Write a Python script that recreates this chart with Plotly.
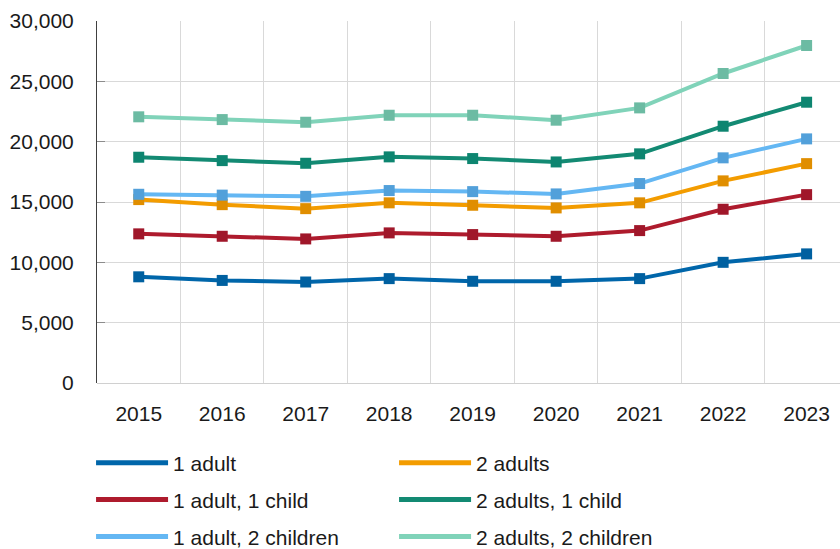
import plotly.graph_objects as go

years = ["2015", "2016", "2017", "2018", "2019", "2020", "2021", "2022", "2023"]

one_adult = [8800, 8500, 8370, 8650, 8430, 8430, 8650, 10000, 10700]
two_adults = [15200, 14780, 14450, 14930, 14730, 14510, 14930, 16750, 18180]
one_adult_one_child = [12360, 12160, 11940, 12440, 12300, 12160, 12630, 14400, 15610]
two_adults_one_child = [18710, 18430, 18210, 18740, 18600, 18320, 18990, 21280, 23270]
one_adult_two_children = [15640, 15570, 15470, 15950, 15860, 15670, 16530, 18660, 20230]
two_adults_two_children = [22060, 21830, 21610, 22190, 22190, 21780, 22800, 25650, 27970]

series_names = ["1 adult", "2 adults", "1 adult, 1 child", "2 adults, 1 child",
                "1 adult, 2 children", "2 adults, 2 children"]
series_values = [one_adult, two_adults, one_adult_one_child, two_adults_one_child,
                 one_adult_two_children, two_adults_two_children]
line_colors = ["#0066AA", "#F39C00", "#AE1B2D", "#138A73", "#64B7F3", "#80D3B9"]
marker_colors = ["#0060A0", "#E08E00", "#A0172A", "#0D8570", "#52A0DA", "#6CBBA3"]
legend_ids = ["legend", "legend", "legend2", "legend2", "legend3", "legend3"]

FONT = "Liberation Sans"
TXT = "#1a1a1a"

fig = go.Figure()
for name, vals, lc, mc in zip(series_names, series_values, line_colors, marker_colors):
    fig.add_trace(go.Scatter(
        x=years, y=vals, name=name, mode="lines+markers",
        line=dict(color=lc, width=4),
        marker=dict(symbol="square", size=11, color=mc),
        showlegend=False,
    ))
# legend-only entries (lines without markers, as in the reference)
for name, lc, lg in zip(series_names, line_colors, legend_ids):
    fig.add_trace(go.Scatter(
        x=[None], y=[None], name=name, mode="lines",
        line=dict(color=lc, width=5), legend=lg, showlegend=True,
    ))

def legend_row(ypos):
    return dict(
        orientation="h", x=-0.008, xanchor="left", y=ypos, yanchor="middle",
        font=dict(family=FONT, size=21, color=TXT),
        itemwidth=72, entrywidth=216, entrywidthmode="pixels",
        bgcolor="rgba(0,0,0,0)", traceorder="normal",
    )

fig.update_layout(
    width=840, height=549,
    margin=dict(l=97, r=0, t=21, b=166, autoexpand=False),
    paper_bgcolor="white", plot_bgcolor="white",
    font=dict(family=FONT, size=21, color=TXT),
    showlegend=True,
    legend=legend_row(-0.221),
    legend2=legend_row(-0.323),
    legend3=legend_row(-0.425),
    xaxis=dict(
        type="category", range=[-0.5, 8.4], tickson="boundaries",
        showgrid=True, gridcolor="#D9D9D9", gridwidth=1,
        ticks="", showline=False, zeroline=False,
        tickfont=dict(family=FONT, size=21, color=TXT),
        ticklabelstandoff=16,
    ),
    yaxis=dict(
        range=[0, 30000], dtick=5000, tickformat=",",
        showgrid=True, gridcolor="#D9D9D9", gridwidth=1,
        zeroline=True, zerolinecolor="#D0D0D0", zerolinewidth=1,
        showline=True, linecolor="#404040", linewidth=1,
        ticks="inside", ticklen=8, tickcolor="#8C8C8C",
        tickfont=dict(family=FONT, size=21, color=TXT),
        ticklabelstandoff=18,
    ),
)

fig.write_html("out.html")
